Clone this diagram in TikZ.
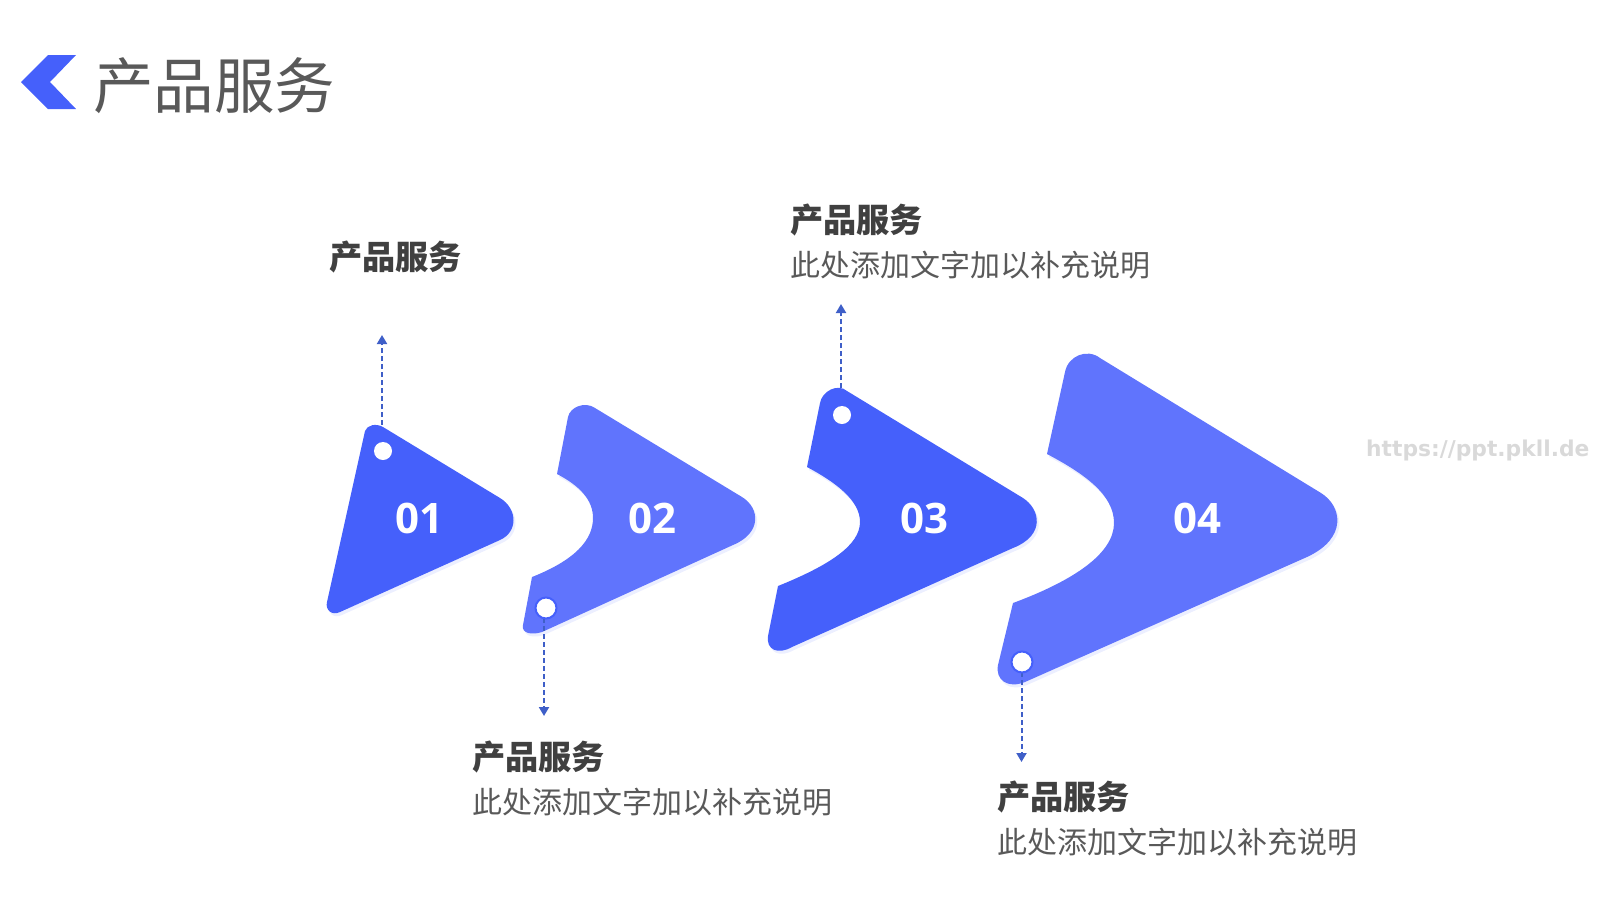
\documentclass[tikz,border=0pt]{standalone}
\usepackage{fontspec}
\usepackage{xcolor}
\newfontfamily\cjk{Noto Sans CJK SC}
\newfontfamily\numfont{Open Sans}
\newfontfamily\sitefont{DejaVu Sans}
\usetikzlibrary{arrows.meta,shadows}
\definecolor{deepblue}{HTML}{4560FB}
\definecolor{softblue}{HTML}{6074FD}
\definecolor{linkblue}{HTML}{3F5FC8}
\definecolor{titlegray}{HTML}{595959}
\definecolor{headgray}{HTML}{404040}
\tikzset{
  arrowshape/.style={drop shadow={shadow xshift=2pt,shadow yshift=-3pt,opacity=0.10,fill=deepblue}},
  numlabel/.style={font=\numfont\bfseries\fontsize{42}{42}\selectfont, text=white},
  headlabel/.style={font=\cjk\bfseries\fontsize{33.2}{34}\selectfont, text=headgray, anchor=west, inner sep=0pt},
  bodylabel/.style={font=\cjk\fontsize{30}{30}\selectfont, text=titlegray, anchor=west, inner sep=0pt},
  hole/.style={circle, fill=white, inner sep=0pt, minimum size=18pt},
  ringhole/.style={hole, draw=deepblue, line width=2pt, minimum size=21pt},
  linkline/.style={linkblue, line width=2pt, dash pattern=on 5pt off 3pt, -{Triangle[length=9pt,width=10pt]}},
}
\begin{document}
\begin{tikzpicture}[x=1pt, y=-1pt]
  \useasboundingbox (0,0) rectangle (1600,900);
  % back chevron
  \fill[deepblue] (76,55) -- (48,55) -- (21,82) -- (48,109) -- (76,109) -- (50,82) -- cycle;
  \node[font=\cjk\fontsize{60.5}{61}\selectfont, text=titlegray, anchor=west, inner sep=0pt] (title) at (93,86) {产品服务};
  % arrow shapes
  \fill[deepblue, arrowshape] (365,431) .. controls (367,425) and (376,423) .. (383,427)
    -- (500,498) .. controls (518,509) and (518,532) .. (500,540)
    -- (340,612) .. controls (332,616) and (325,610) .. (327,602) -- cycle;
  \fill[softblue, arrowshape] (557,474) -- (568,417) .. controls (570,407) and (585,401) .. (595,408)
    -- (742,497) .. controls (760,508) and (762,533) .. (733,545)
    -- (542,632) .. controls (533,635) and (521,634) .. (523,625)
    -- (532,577) .. controls (575,560) and (593,540) .. (593,518)
    .. controls (593,500) and (580,486) .. (557,474) -- cycle;
  \fill[deepblue, arrowshape] (807,467) -- (820,403) .. controls (822,391) and (838,383) .. (847,391)
    -- (1023,498) .. controls (1040,509) and (1046,535) .. (1013,548)
    -- (792,647) .. controls (778,655) and (766,650) .. (768,636)
    -- (778,586) .. controls (830,565) and (860,545) .. (860,522)
    .. controls (860,500) and (835,482) .. (807,467) -- cycle;
  \fill[softblue, arrowshape] (1047,454) -- (1065,372) .. controls (1068,356) and (1087,348) .. (1100,358)
    -- (1321,493) .. controls (1342,506) and (1348,538) .. (1307,557)
    -- (1025,682) .. controls (1008,689) and (995,680) .. (998,665)
    -- (1013,603) .. controls (1075,580) and (1114,553) .. (1114,523)
    .. controls (1114,495) and (1085,474) .. (1047,454) -- cycle;
  % numbers
  \node[numlabel] (num1) at (419,518) {01};
  \node[numlabel] (num2) at (652,518) {02};
  \node[numlabel] (num3) at (924,518) {03};
  \node[numlabel] (num4) at (1197,518) {04};
  % leader arrows
  \coordinate (top1) at (382,425);
  \coordinate (tip1) at (382,335);
  \coordinate (top3) at (841,388);
  \coordinate (tip3) at (841,304);
  \coordinate (tip2) at (544,716);
  \coordinate (tip4) at (1021.5,762);
  \coordinate (start2) at (544,610);
  \coordinate (start4) at (1021.5,664);
  \draw[linkline] (top1) -- (tip1);
  \draw[linkline] (start2) -- (tip2);
  \draw[linkline] (top3) -- (tip3);
  \draw[linkline] (start4) -- (tip4);
  % holes
  \node[hole] (hole1) at (383,451) {};
  \node[ringhole] (hole2) at (546,608) {};
  \node[hole] (hole3) at (842,415) {};
  \node[ringhole] (hole4) at (1022,662) {};
  % labels
  \node[headlabel] (head1) at (329,257) {产品服务};
  \node[headlabel] (head3) at (790,220) {产品服务};
  \node[bodylabel] (body3) at (790,265) {此处添加文字加以补充说明};
  \node[headlabel] (head2) at (472,757) {产品服务};
  \node[bodylabel] (body2) at (472,802) {此处添加文字加以补充说明};
  \node[headlabel] (head4) at (997,797) {产品服务};
  \node[bodylabel] (body4) at (997,842) {此处添加文字加以补充说明};
  % site mark
  \node[font=\sitefont\bfseries\fontsize{21.8}{22}\selectfont, text=black!15, anchor=west, inner sep=0pt] (site) at (1366,450) {https://ppt.pkll.de};
\end{tikzpicture}
\end{document}
